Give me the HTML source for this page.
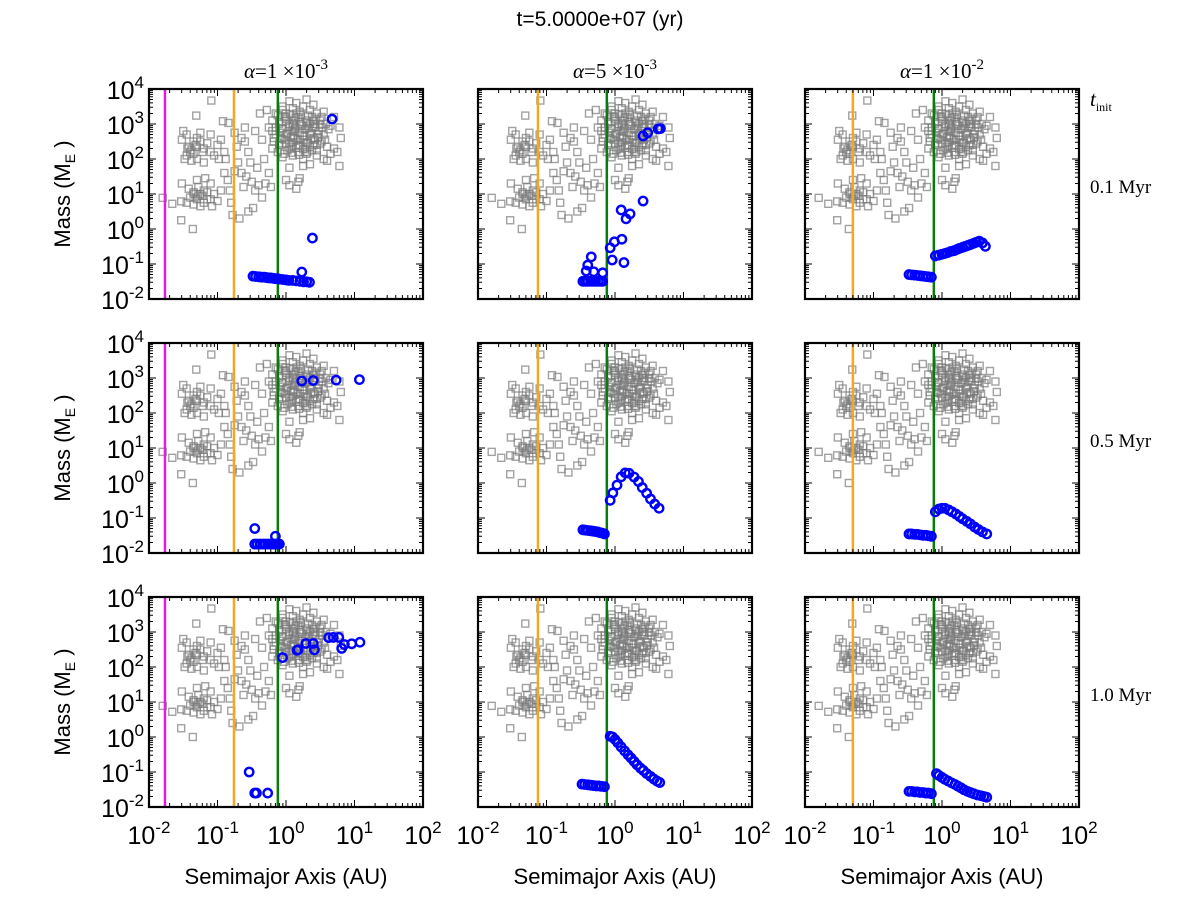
<!DOCTYPE html>
<html><head><meta charset="utf-8"><style>
html,body{margin:0;padding:0;background:#fff;}
svg{display:block;font-family:"Liberation Sans",sans-serif;}
</style></head><body>
<svg id="fig" width="1200" height="901" viewBox="0 0 1200 901" xmlns="http://www.w3.org/2000/svg">
<text x="600" y="26" font-size="21" text-anchor="middle">t=5.0000e+07 (yr)</text>
</svg>
<script>
const xDecades = [-2, -1, 0, 1, 2];
const yDecades = [-2, -1, 0, 1, 2, 3, 4];
const colTitles = [["1","-3"],["5","-3"],["1","-2"]];
const rowLabels = ["0.1 Myr","0.5 Myr","1.0 Myr"];
const magentaLine = [0.0171, null, null];
const orangeLine = [0.174, 0.075, 0.05];
const greenLine = [0.76, 0.76, 0.76];

// gray squares (log10 a, log10 M), same population in every panel
const grayLogA = [-1.80,-1.66,-1.53,-1.53,-1.36,-1.31,-1.09,-0.92,-0.84,
-1.5,-1.45,-1.52,-1.4,-1.45,-1.35,-1.3,-1.38,-1.42,-1.3,-1.25,-1.2,-1.15,-1.1,-1.1,-1.0,-1.05,-0.95,-0.9,-1.2,-1.32,-1.48,-1.25,-0.98,-1.35,
-1.52,-1.42,-1.35,-1.3,-1.28,-1.22,-1.2,-1.15,-1.1,-1.1,-1.05,-1.0,-1.25,-1.35,-1.18,-0.95,-1.4,-1.08,-1.3,-1.45,
-0.88,-0.85,-0.82,-0.8,-0.78,-0.75,-0.72,-0.7,-0.68,-0.65,-0.62,-0.6,-0.58,-0.55,-0.55,-0.52,-0.5,-0.48,-0.45,-0.45,-0.42,-0.4,-0.38,-0.35,-0.32,-0.3,-0.28,-0.25,-0.25,-0.22,-0.2,-0.6,-0.75,-0.65,-0.35,-0.9,
0.05,0.15,0.3,0.4,-0.05,
-0.15,-0.05,0.0,0.1,0.2,0.25,0.35,0.45,0.55,0.7,
-0.2,-0.1,0.0,0.05,0.12,0.18,0.22,0.3,0.38,0.42,0.5,0.58,0.65,
-0.2,-0.15,-0.05,0.0,0.08,0.15,0.2,0.28,0.35,0.4,0.48,0.55,0.62,0.1,
-0.18,-0.1,-0.02,0.05,0.12,0.18,0.25,0.32,0.4,0.45,0.52,0.6,0.7,
-0.12,-0.05,0.02,0.1,0.18,0.25,0.3,0.38,0.45,0.55,0.6,0.78,0.65,
0.05,0.25,0.35,0.0,0.05,0.18,0.15,0.2,
0.0,0.1,0.2,0.3,0.08,0.28,0.35,0.15,-0.08,0.42,
0.8,0.75,0.78,
-0.12,-0.02,0.06,0.14,0.22,0.32,0.44,0.52,-0.1,0.0,0.1,0.2,0.3,0.4,0.5,-0.15,-0.05,0.04,0.13,0.23,0.33,0.43,0.53,-0.08,0.02,0.12,0.24,0.36,0.47,-0.18,-0.06,0.07,0.17,0.27,0.37,0.47,0.57,-0.1,0.0,0.1,0.2,0.3,0.4,0.5,0.05,0.15,0.25,0.35,-0.03,0.09,0.19,0.31,0.45,
-1.44,-1.38,-1.3,-1.22,-1.35,-1.28,-1.2,-1.32,-1.25,-1.15];
const grayLogM = [0.89,0.72,0.79,0.25,0.0,3.24,3.67,3.08,3.03,
2.8,2.7,2.55,2.2,2.1,2.15,2.0,1.95,2.35,2.6,2.5,2.3,2.45,2.2,2.7,2.4,2.1,2.55,2.2,1.9,2.4,2.0,2.75,2.0,2.5,
1.3,1.15,1.0,0.85,1.2,0.95,0.75,1.05,0.85,1.3,1.0,0.8,0.65,0.7,1.45,1.1,0.9,0.65,1.4,0.75,
2.0,1.4,1.1,0.75,0.4,1.65,2.35,1.9,0.3,2.6,1.2,2.9,1.5,0.5,2.2,1.9,1.35,0.6,2.8,1.1,1.75,1.25,3.3,2.55,2.0,1.3,3.4,2.9,1.6,1.2,2.3,2.5,2.75,1.6,0.9,1.6,
3.65,3.6,3.7,3.55,3.5,
3.3,3.4,3.3,3.45,3.35,3.5,3.4,3.3,3.35,3.2,
3.1,3.0,3.15,3.0,3.1,3.2,3.0,3.1,3.2,3.0,3.1,3.0,2.95,
2.8,2.7,2.85,2.7,2.8,2.9,2.75,2.85,2.7,2.9,2.8,2.7,2.85,2.65,
2.5,2.4,2.55,2.45,2.6,2.4,2.55,2.45,2.6,2.4,2.5,2.35,2.3,
2.2,2.05,2.25,2.1,2.2,2.0,2.15,2.25,2.1,2.0,1.95,1.8,2.15,
1.75,1.8,1.85,1.4,1.25,1.35,1.15,1.45,
3.2,2.95,2.55,2.95,2.35,2.3,3.0,3.3,2.6,2.55,
2.6,2.2,2.9,
3.25,3.22,3.28,3.18,3.26,3.24,3.15,3.2,3.05,3.08,3.02,3.06,3.04,3.08,2.98,2.9,2.88,2.92,2.86,2.95,2.88,2.92,2.9,2.75,2.72,2.78,2.68,2.74,2.7,2.6,2.58,2.62,2.56,2.64,2.58,2.62,2.55,2.45,2.42,2.48,2.38,2.46,2.4,2.44,2.3,2.32,2.28,2.34,2.15,2.18,2.12,2.2,2.25,
2.3,2.25,2.35,2.2,1.05,0.95,1.1,0.9,1.0,0.85];

// blue planets per panel [row][col]
const blueA00 = [0.33,0.36,0.4,0.44,0.48,0.52,0.56,0.6,0.65,0.7,0.75,0.8,0.9,1.0,1.1,1.25,1.4,1.6,1.8,2.0,2.2,1.7,2.43,4.7];
const blueM00 = [0.045,0.044,0.043,0.042,0.042,0.041,0.040,0.040,0.039,0.038,0.038,0.037,0.036,0.035,0.034,0.034,0.033,0.032,0.031,0.031,0.030,0.059,0.55,1380];
const blueA01 = [0.34,0.37,0.4,0.44,0.48,0.52,0.57,0.62,0.66,0.45,0.40,0.38,0.49,0.66,0.91,1.35,0.85,0.98,1.26,1.23,1.66,1.45,2.57,2.57,3.0,4.27,4.6];
const blueM01 = [0.032,0.032,0.032,0.032,0.032,0.032,0.032,0.032,0.032,0.16,0.093,0.063,0.06,0.056,0.13,0.11,0.29,0.43,0.51,3.5,2.7,1.95,6.3,457,562,724,740];
const blueA02 = [0.33,0.36,0.4,0.44,0.48,0.53,0.58,0.63,0.7,0.8,0.9,1.0,1.1,1.2,1.35,1.5,1.65,1.8,2.0,2.2,2.4,2.6,2.9,3.2,3.5,3.9,4.3];
const blueM02 = [0.05,0.049,0.048,0.047,0.046,0.045,0.044,0.043,0.042,0.17,0.18,0.19,0.2,0.21,0.23,0.24,0.26,0.28,0.3,0.32,0.34,0.36,0.39,0.42,0.45,0.4,0.32];
const blueA10 = [0.35,0.38,0.42,0.46,0.5,0.55,0.6,0.65,0.7,0.75,0.8,0.35,0.7,1.7,2.5,5.4,11.8];
const blueM10 = [0.018,0.018,0.018,0.018,0.018,0.018,0.018,0.018,0.018,0.018,0.018,0.05,0.03,820,850,870,900];
const blueA11 = [0.34,0.37,0.4,0.44,0.48,0.52,0.56,0.6,0.65,0.7,0.85,0.93,1.07,1.23,1.41,1.6,1.9,2.2,2.5,2.9,3.3,3.8,4.4];
const blueM11 = [0.046,0.045,0.044,0.043,0.042,0.041,0.040,0.038,0.037,0.035,0.32,0.52,0.87,1.5,1.95,1.9,1.48,1.1,0.74,0.51,0.35,0.25,0.19];
const blueA12 = [0.33,0.36,0.4,0.44,0.48,0.53,0.58,0.63,0.7,0.8,0.9,1.0,1.1,1.25,1.4,1.6,1.8,2.0,2.3,2.6,3.0,3.4,3.9,4.5];
const blueM12 = [0.035,0.035,0.034,0.034,0.033,0.032,0.032,0.031,0.030,0.15,0.18,0.19,0.19,0.17,0.15,0.13,0.11,0.095,0.08,0.068,0.055,0.047,0.04,0.035];
const blueA20 = [0.29,0.35,0.37,0.54,0.89,1.45,1.5,1.95,2.5,2.6,4.2,4.9,5.9,6.5,7.1,9.1,12];
const blueM20 = [0.1,0.025,0.025,0.025,186,300,310,470,470,310,690,700,700,340,440,460,510];
const blueA21 = [0.33,0.36,0.4,0.44,0.48,0.53,0.58,0.63,0.7,0.85,0.92,1.0,1.1,1.23,1.38,1.55,1.72,1.9,2.1,2.35,2.6,2.9,3.3,3.7,4.1,4.5];
const blueM21 = [0.045,0.044,0.043,0.042,0.041,0.040,0.040,0.039,0.038,1.05,1.0,0.85,0.68,0.52,0.4,0.31,0.25,0.2,0.16,0.13,0.11,0.09,0.075,0.063,0.055,0.05];
const blueA22 = [0.33,0.36,0.4,0.44,0.48,0.53,0.58,0.63,0.7,0.83,0.9,1.0,1.1,1.23,1.38,1.55,1.72,1.9,2.1,2.35,2.6,2.9,3.3,3.7,4.1,4.5];
const blueM22 = [0.028,0.028,0.027,0.027,0.026,0.026,0.025,0.025,0.024,0.09,0.08,0.07,0.062,0.055,0.049,0.044,0.039,0.035,0.031,0.028,0.026,0.024,0.022,0.021,0.02,0.019];
const blueA = [[blueA00,blueA01,blueA02],[blueA10,blueA11,blueA12],[blueA20,blueA21,blueA22]];
const blueM = [[blueM00,blueM01,blueM02],[blueM10,blueM11,blueM12],[blueM20,blueM21,blueM22]];

const NS = "http://www.w3.org/2000/svg";
const svg = document.getElementById('fig');
const lefts = [149, 478, 805], tops = [89, 343, 597], PW = 274, PH = 210;
function mk(tag, attrs, parent){const e=document.createElementNS(NS,tag);for(const k in attrs)e.setAttribute(k,attrs[k]);(parent||svg).appendChild(e);return e;}
function xScaleLog(col, l){return lefts[col] + (l + 2) / 4 * PW;}
function yScaleLog(row, l){return tops[row] + PH - (l + 2) / 6 * PH;}
function xScale(col, v){return xScaleLog(col, Math.log10(v));}
function yScale(row, v){return yScaleLog(row, Math.log10(v));}
function powText(parent, x, y, base, exp, size, anchor, fam){
  const t = mk('text', {x:x, y:y, 'font-size':size, 'text-anchor':anchor||'middle'}, parent);
  if (fam) t.setAttribute('font-family', fam);
  const a = mk('tspan', {}, t); a.textContent = base;
  const b = mk('tspan', {dy: -size*0.45, 'font-size': size*0.68}, t); b.textContent = exp;
  return t;
}

for (let r = 0; r < 3; r++) {
  for (let c = 0; c < 3; c++) {
    const g = mk('g', {});
    
    
    const L = lefts[c], T = tops[r];
    const clip = mk('clipPath', {id: 'cp'+r+c}, g);
    mk('rect', {x:L, y:T, width:PW, height:PH}, clip);
    const plot = mk('g', {'clip-path': 'url(#cp'+r+c+')'}, g);
    for (let i = 0; i < grayLogA.length; i++) {
      const x = xScaleLog(c, grayLogA[i]), y = yScaleLog(r, grayLogM[i]);
      const s = mk('rect', {x:x-3.5, y:y-3.5, width:7, height:7, fill:'none', stroke:'#7a7a7a', 'stroke-width':1.4, 'stroke-opacity':0.7}, plot);
      
      
    }
    const lines = [[magentaLine[c], '#e619e6', 'inner-edge-line'], [orangeLine[c], '#f5a623', 'orange-line'], [greenLine[c], '#0a7a0a', 'snow-line']];
    lines.forEach(([v, col, nm]) => {
      if (v == null) return;
      const x = xScale(c, v);
      const ln = mk('line', {x1:x, x2:x, y1:T, y2:T+PH, stroke:col, 'stroke-width':2.5}, plot);
      
      
    });
    const A = blueA[r][c], M = blueM[r][c];
    for (let i = 0; i < A.length; i++) {
      const ci = mk('circle', {cx:xScale(c, A[i]), cy:yScale(r, M[i]), r:4.2, fill:'none', stroke:'#0000ff', 'stroke-width':2.4}, plot);
      
      
    }
    const fr = mk('rect', {x:L, y:T, width:PW, height:PH, fill:'none', stroke:'#000', 'stroke-width':2.2}, g);
    
    
    let d = '';
    xDecades.forEach(dec => {
      const x = xScaleLog(c, dec);
      d += `M${x},${T+PH}v-7M${x},${T}v7`;
      if (dec < 2) for (let k = 2; k < 10; k++) { const xm = xScaleLog(c, dec + Math.log10(k)); d += `M${xm},${T+PH}v-4M${xm},${T}v4`; }
    });
    yDecades.forEach(dec => {
      const y = yScaleLog(r, dec);
      d += `M${L},${y}h7M${L+PW},${y}h-7`;
      if (dec < 4) for (let k = 2; k < 10; k++) { const ym = yScaleLog(r, dec + Math.log10(k)); d += `M${L},${ym}h4M${L+PW},${ym}h-4`; }
    });
    mk('path', {d:d, stroke:'#000', 'stroke-width':1, fill:'none'}, g);
    if (c === 0) {
      yDecades.forEach(dec => {
        const t = powText(g, L-5, yScaleLog(r, dec)+10, '10', String(dec), 25, 'end');
        
        
      });
      const yl = mk('text', {x:0, y:0, 'font-size':22, 'text-anchor':'middle', transform:`translate(70,${T+PH/2}) rotate(-90)`}, g);
      
      
      yl.innerHTML = 'Mass (M<tspan dy="5" font-size="14">E</tspan><tspan dy="-5"> )</tspan>';
    }
    if (r === 2) {
      xDecades.forEach(dec => {
        const t = powText(g, xScaleLog(c, dec), T+PH+37, '10', String(dec), 25, 'middle');
        
        
      });
      const xl = mk('text', {x:L+PW/2, y:884, 'font-size':22, 'text-anchor':'middle'}, g);
      
      
      xl.textContent = 'Semimajor Axis (AU)';
    }
    if (r === 0) {
      const ct = mk('text', {x:L+PW/2, y:78, 'font-size':21, 'text-anchor':'middle', 'font-family':'"Liberation Serif",serif'}, g);
      
      
      ct.innerHTML = `<tspan font-style="italic">α</tspan>=${colTitles[c][0]} ×10<tspan dy="-9" font-size="15">${colTitles[c][1]}</tspan>`;
    }
  }
  const rl = mk('text', {x:1090, y:tops[r]+104, 'font-size':19, 'font-family':'"Liberation Serif",serif'});
  
  
  rl.textContent = rowLabels[r];
}
const ti = mk('text', {x:1090, y:106, 'font-size':21, 'font-family':'"Liberation Serif",serif'});


ti.innerHTML = '<tspan font-style="italic">t</tspan><tspan dy="5" font-size="12">init</tspan>';
</script>
</body></html>
